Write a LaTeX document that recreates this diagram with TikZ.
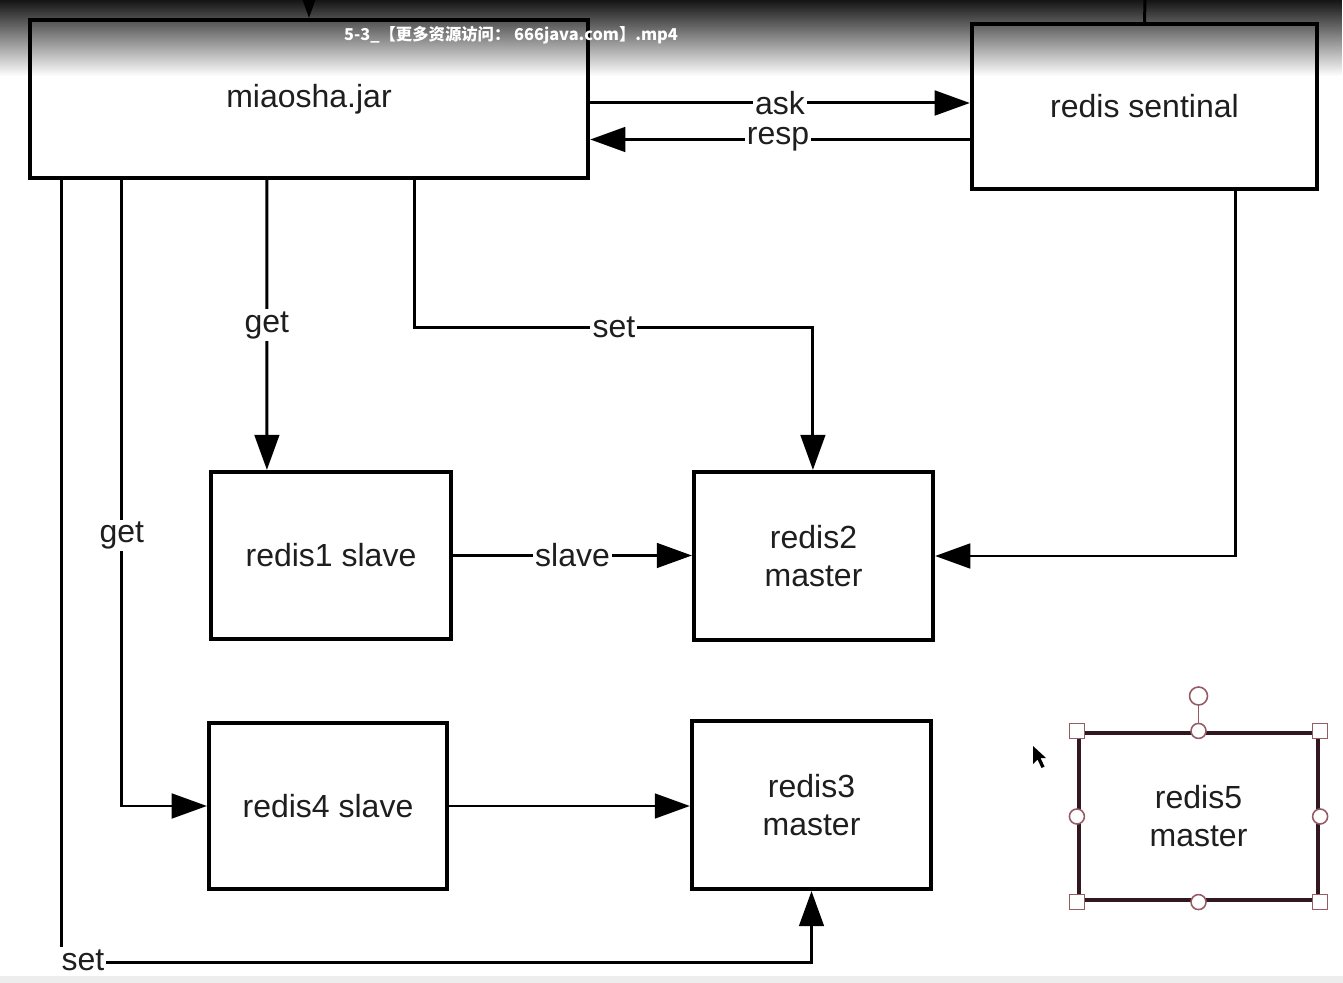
\documentclass[tikz,border=0pt]{standalone}
\usepackage{fontspec}
\setmainfont{Liberation Sans}
\newfontfamily\cjk{Noto Sans CJK SC}
\usetikzlibrary{arrows.meta,calc,fadings}
\definecolor{selc}{RGB}{50,22,32}
\definecolor{handlec}{RGB}{150,92,102}
\definecolor{txt}{RGB}{30,30,30}
\tikzfading[name=topfade, top color=transparent!0, bottom color=transparent!100]
\begin{document}
\begin{tikzpicture}[x=0.01cm,y=-0.01cm,
  box/.style={draw=black, line width=1.15pt, inner sep=0pt, align=center, text=txt, font=\fontsize{9.1}{10.8}\selectfont},
  conn/.style={line width=0.85pt, draw=black},
  arr/.style={conn, -{Triangle[length=10pt,width=7pt]}},
  lbl/.style={fill=white, inner sep=0.6pt, text=txt, font=\fontsize{9.1}{10.8}\selectfont},
  handle/.style={draw=handlec, fill=white, line width=0.45pt},
]
\fill[white] (0,0) rectangle (1343,983);
\useasboundingbox (0,0) rectangle (1343,983);

% boxes
\node[box, minimum width=5.58cm, minimum height=1.58cm] (jar) at (309,99) {miaosha.jar};
\node[box, minimum width=3.45cm, minimum height=1.65cm] (sent) at (1144.5,106.5) {redis sentinal};
\node[box, minimum width=2.40cm, minimum height=1.67cm] (r1) at (331,555.5) {redis1 slave};
\node[box, minimum width=2.39cm, minimum height=1.68cm] (r2) at (813.5,556) {redis2\\master};
\node[box, minimum width=2.38cm, minimum height=1.66cm] (r4) at (328,806) {redis4 slave};
\node[box, minimum width=2.39cm, minimum height=1.68cm] (r3) at (811.5,805) {redis3\\master};
\node[box, draw=selc, minimum width=2.39cm, minimum height=1.67cm] (r5) at (1198.5,816.5) {redis5\\master};

% connectors at the top
\coordinate (tin) at (309,-2);
\draw[arr] (tin) -- (jar.north);
\coordinate (sin) at (1145,0);
\draw[conn] (sin) -- (sent.north);

% ask / resp
\coordinate (a1) at ($(jar.east)+(0,4)$);
\draw[arr] (a1) -- node[lbl] (asklbl) {ask} (a1 -| sent.west);
\coordinate (rs) at ($(sent.west)+(0,33)$);
\draw[arr] (rs) -- node[lbl, xshift=-0.02cm] (resplbl) {resp} (rs -| jar.east);

% get -> redis1
\coordinate (g1s) at ($(jar.south west)+(239,0)$);
\coordinate (g1e) at ($(r1.north west)+(58,0)$);
\draw[arr] (g1s) -- node[lbl, pos=0.50] (get1lbl) {get} (g1e);

% set -> redis2
\coordinate (s1s) at ($(jar.south west)+(387,0)$);
\coordinate (s1e) at ($(r2.north west)+(121,0)$);
\draw[arr] (s1s) -- ++(0,147) -| node[lbl, pos=0.25] (set1lbl) {set} (s1e);

% sentinal -> redis2
\coordinate (sns) at ($(sent.south west)+(266,0)$);
\draw[arr] (sns) |- (r2.east);

% slave
\draw[arr] (r1.east) -- node[lbl] (slavelbl) {slave} (r1.east -| r2.west);

% get -> redis4
\coordinate (g2s) at ($(jar.south west)+(94,0)$);
\draw[arr] (g2s) |- node[lbl, pos=0.284] (get2lbl) {get} (r4.west);

% redis4 -> redis3
\draw[arr] (r4.east) -- (r4.east -| r3.west);

% set -> redis3
\coordinate (s2s) at ($(jar.south west)+(34,0)$);
\coordinate (s2c) at ($(r3.south)+(0,71)$);
\draw[arr] (s2s) |- (s2c) -- (r3.south);
\node[lbl] (set2lbl) at (83,960) {set};

% selection handles on redis5
\coordinate (rot) at (1198.5,696);
\draw[handlec, line width=0.5pt] (rot) -- (r5.north);
\draw[handle] (rot) circle (9);
\foreach \a in {north,south,east,west}
  \draw[handle] (r5.\a) circle (7.5);
\foreach \a in {north west,north east,south west,south east}
  \draw[handle] ($(r5.\a)+(-7.5,-7.5)$) rectangle ($(r5.\a)+(7.5,7.5)$);

% mouse cursor
\fill[black] (1033,746) -- (1033,764) -- (1037.5,759.5) -- (1041.5,768) -- (1044.5,766.5) -- (1040.5,758) -- (1046,758) -- cycle;

% video overlay band
\fill[black, path fading=topfade, opacity=0.92] (0,0) rectangle (1343,76);
\fill[black!7] (0,976) rectangle (1343,983);
\node[text=white, inner sep=0pt, font=\cjk\bfseries\fontsize{4.65}{5.5}\selectfont] (title) at (511,35) {5-3\_【更多资源访问： 666java.com】.mp4};
\end{tikzpicture}
\end{document}
